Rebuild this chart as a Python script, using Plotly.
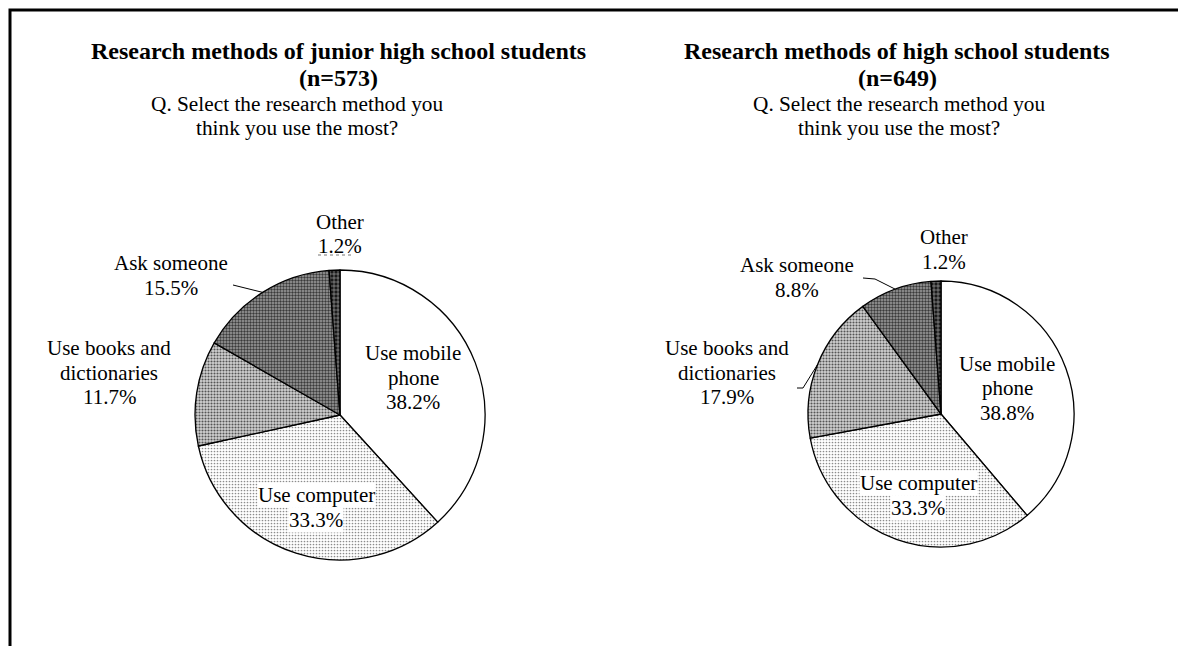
import math
import plotly.graph_objects as go

# ---- data -------------------------------------------------------------
categories = ["Use mobile\nphone", "Use computer", "Use books and\ndictionaries",
              "Ask someone", "Other"]
junior_pct = [38.2, 33.3, 11.7, 15.5, 1.2]
senior_pct = [38.8, 33.3, 17.9, 8.8, 1.2]
junior_title = "Research methods of junior high school students"
senior_title = "Research methods of high school students"
junior_n = 573
senior_n = 649
question = ["Q. Select the research method you", "think you use the most?"]

# ---- page geometry / style ----------------------------------------------
W, H = 1178, 646
FONT = "Liberation Serif, Times New Roman, serif"
LINE_H = 24.5
TITLE_LINE_H = 27


def px(x):
    return x / W


def py(y):
    return 1 - y / H


# slice fills: plain, light dots, dense dots, dark check, black grid
pattern = dict(
    shape=["", ".", ".", ".", "+"],
    fgcolor=["#ffffff", "#8c8c8c", "#555555", "#3a3a3a", "#bdbdbd"],
    bgcolor=["#ffffff", "#ffffff", "#d2d2d2", "#a0a0a0", "#1a1a1a"],
    size=[4, 3, 3, 3, 4],
    solidity=[0.2, 0.25, 0.4, 0.5, 0.25],
    fillmode="replace",
)

panels = [
    dict(values=junior_pct, title=junior_title, n=junior_n,
         cx=340, cy=415, r=145, title_x=338, sub_x=297,
         # first-line centre of each slice label, and whether it sits on a white box
         labels=[(413, 353, True), (316, 495, True), (109, 348, False),
                 (171, 263, False), (340, 222, False)],
         # leader lines: slice index -> label-side points
         leaders={3: [(233, 285)]},
         dotted=[((318, 255), (352, 255))]),
    dict(values=senior_pct, title=senior_title, n=senior_n,
         cx=941, cy=414, r=133, title_x=897, sub_x=899,
         labels=[(1007, 364, True), (918, 483, True), (727, 348, False),
                 (797, 265, False), (944, 237, False)],
         leaders={3: [(863, 278), (875, 279)], 2: [(797, 388), (803, 388)]},
         dotted=[]),
]

fig = go.Figure()
annotations = []
shapes = []


def add_text(lines, cx, cy, size, bold=False, box=False, step=LINE_H):
    for i, line in enumerate(lines):
        txt = f"<b>{line}</b>" if bold else line
        annotations.append(dict(
            x=px(cx), y=py(cy + i * step), xref="paper", yref="paper",
            text=txt, showarrow=False, xanchor="center", yanchor="middle",
            font=dict(family=FONT, size=size, color="black"),
            bgcolor="white" if box else "rgba(0,0,0,0)", borderpad=0,
        ))


for p in panels:
    vals = p["values"]
    cx, cy, r = p["cx"], p["cy"], p["r"]
    fig.add_trace(go.Pie(
        labels=[c.replace("\n", " ") for c in categories],
        values=vals,
        sort=False,
        direction="clockwise",
        rotation=0,
        textinfo="none",
        hoverinfo="label+percent",
        showlegend=False,
        marker=dict(line=dict(color="black", width=1.3), pattern=pattern,
                    colors=["#ffffff", "#eeeeee", "#bcbcbc", "#8a8a8a", "#303030"]),
        domain=dict(x=[px(cx - r), px(cx + r)], y=[py(cy + r), py(cy - r)]),
    ))

    # headings
    add_text([p["title"], f"(n={p['n']})"], p["title_x"], 51, 24, bold=True,
             step=TITLE_LINE_H)
    add_text(question, p["sub_x"], 104, 21.3)

    # slice labels
    total = sum(vals)
    start = 0.0
    for i, (cat, v) in enumerate(zip(categories, vals)):
        mid = (start + v / 2) / total * 2 * math.pi
        start += v
        lx, ly, box = p["labels"][i]
        add_text(cat.split("\n") + [f"{v:.1f}%"], lx, ly, 21, box=box)
        if i in p["leaders"]:
            ex, ey = cx + r * math.sin(mid), cy - r * math.cos(mid)
            pts = p["leaders"][i] + [(ex, ey)]
            path = "M " + " L ".join(f"{px(x)},{py(y)}" for x, y in pts)
            shapes.append(dict(type="path", path=path, xref="paper", yref="paper",
                               line=dict(color="black", width=1)))
    for (x0, y0), (x1, y1) in p["dotted"]:
        shapes.append(dict(type="line", x0=px(x0), y0=py(y0), x1=px(x1), y1=py(y1),
                           xref="paper", yref="paper",
                           line=dict(color="#777777", width=1, dash="dot")))

# outer frame (left and top edges)
shapes.append(dict(type="path", xref="paper", yref="paper",
                   path=f"M {px(10)},{py(H + 5)} L {px(10)},{py(10)} L {px(W + 5)},{py(10)}",
                   line=dict(color="black", width=3)))

fig.update_layout(
    width=W, height=H,
    margin=dict(l=0, r=0, t=0, b=0),
    paper_bgcolor="white", plot_bgcolor="white",
    annotations=annotations, shapes=shapes,
    font=dict(family=FONT),
)

fig.write_html("out.html")
